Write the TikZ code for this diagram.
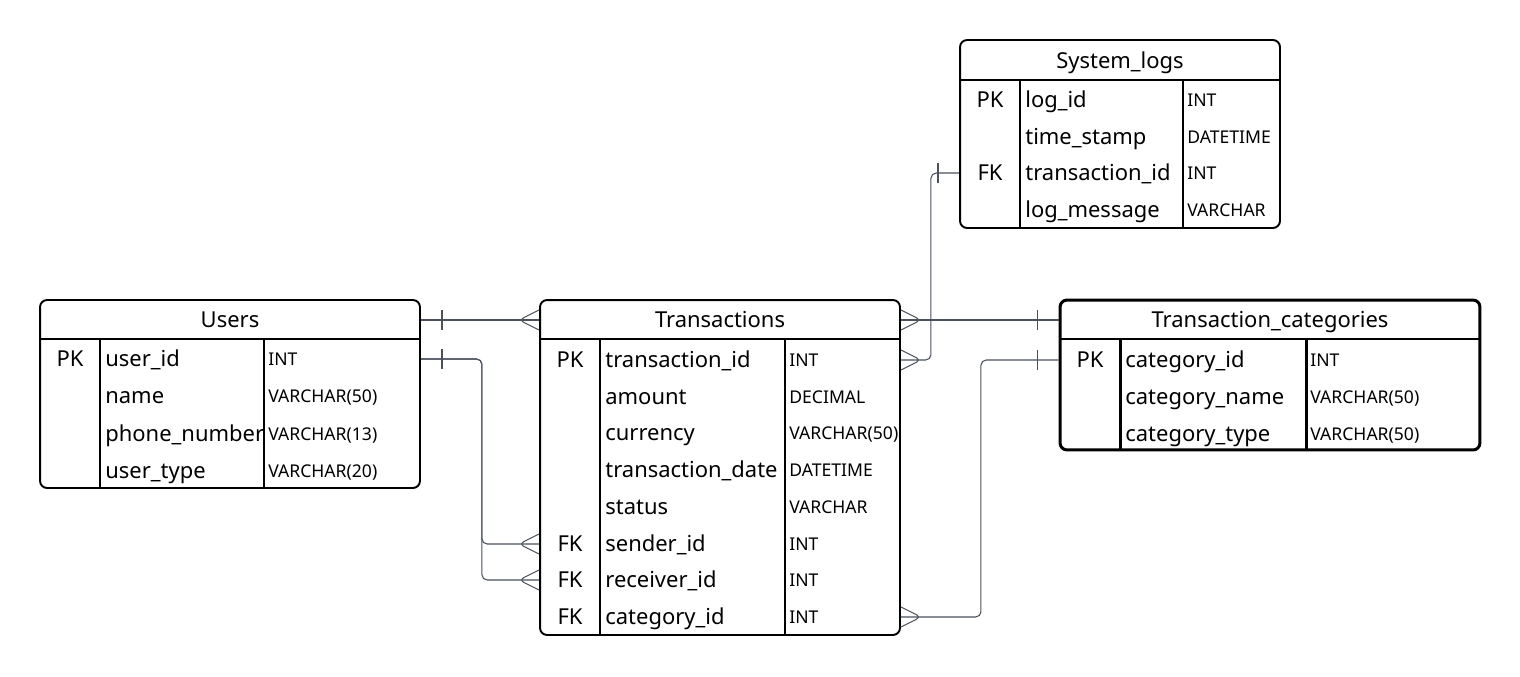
\documentclass[tikz,border=0pt]{standalone}
\usepackage{fontspec}
\setmainfont{Noto Sans}
\usetikzlibrary{positioning, decorations.markings}
\definecolor{LinkGray}{HTML}{4A505C}

\begin{document}
\begin{tikzpicture}[x=0.02cm, y=-0.02cm,
    tablebox/.style={draw, line width=1.1pt, rounded corners=4pt, inner sep=0pt},
    divider/.style={line width=1.1pt},
    tabletitle/.style={inner sep=0pt, font=\fontsize{12.5}{15}\selectfont, text height=8.9pt, text depth=0pt},
    keycell/.style={inner sep=0pt, font=\fontsize{12.5}{15}\selectfont, text height=8.9pt, text depth=0pt},
    field/.style={anchor=west, inner sep=0pt, font=\fontsize{12.5}{15}\selectfont, text height=8.9pt, text depth=0pt},
    dtype/.style={anchor=west, inner sep=0pt, font=\fontsize{10}{12}\selectfont, text height=7.1pt, text depth=0pt},
    link/.style={LinkGray, line width=0.6pt, rounded corners=3pt},
    one start/.style={postaction={decorate, decoration={markings,
        mark=at position 12pt with {\draw[LinkGray, line width=0.6pt] (0,-5.7pt) -- (0,5.7pt);}}}},
    one end/.style={postaction={decorate, decoration={markings,
        mark=at position -12pt with {\draw[LinkGray, line width=0.6pt] (0,-5.7pt) -- (0,5.7pt);}}}},
    many start/.style={postaction={decorate, decoration={markings,
        mark=at position 11.4pt with {\draw[LinkGray, line width=0.6pt] (-11.4pt,5.7pt) -- (0,0) -- (-11.4pt,-5.7pt);}}}},
    many end/.style={postaction={decorate, decoration={markings,
        mark=at position -11.4pt with {\draw[LinkGray, line width=0.6pt] (11.4pt,5.7pt) -- (0,0) -- (11.4pt,-5.7pt);}}}}
  ]
  \useasboundingbox (0,0) rectangle (1520,676);

  % Users
  \node[tablebox, minimum width=7.6cm, minimum height=3.76cm] (users) at (230,394) {};
  \draw[divider] (40,339) -- (420,339) (100,339) -- (100,488) (264,339) -- (264,488);
  \node[tabletitle] (users-title) at (230,320) {Users};
  \node[keycell] (u-pk) at (70,359) {PK};
  \node[field] (u-id) at (105,359) {user\_id};
  \node[dtype] (u-id-t) at (268,359) {INT};
  \node[field] (u-name) at (105,396) {name};
  \node[dtype] (u-name-t) at (268,396) {VARCHAR(50)};
  \node[field] (u-phone) at (105,434) {phone\_number};
  \node[dtype] (u-phone-t) at (268,434) {VARCHAR(13)};
  \node[field] (u-type) at (105,471) {user\_type};
  \node[dtype] (u-type-t) at (268,471) {VARCHAR(20)};

  % Transactions
  \node[tablebox, minimum width=7.2cm, minimum height=6.7cm] (trans) at (720,467.5) {};
  \draw[divider] (540,339) -- (900,339) (600,339) -- (600,635) (785,339) -- (785,635);
  \node[tabletitle] (trans-title) at (720,320) {Transactions};
  \node[keycell] (t-pk) at (570,360) {PK};
  \node[field] (t-id) at (605,360) {transaction\_id};
  \node[dtype] (t-id-t) at (789,360) {INT};
  \node[field] (t-amount) at (605,397) {amount};
  \node[dtype] (t-amount-t) at (789,397) {DECIMAL};
  \node[field] (t-currency) at (605,433) {currency};
  \node[dtype] (t-currency-t) at (789,433) {VARCHAR(50)};
  \node[field] (t-date) at (605,470) {transaction\_date};
  \node[dtype] (t-date-t) at (789,470) {DATETIME};
  \node[field] (t-status) at (605,507) {status};
  \node[dtype] (t-status-t) at (789,507) {VARCHAR};
  \node[keycell] (t-fk1) at (570,544) {FK};
  \node[field] (t-sender) at (605,544) {sender\_id};
  \node[dtype] (t-sender-t) at (789,544) {INT};
  \node[keycell] (t-fk2) at (570,580) {FK};
  \node[field] (t-receiver) at (605,580) {receiver\_id};
  \node[dtype] (t-receiver-t) at (789,580) {INT};
  \node[keycell] (t-fk3) at (570,617) {FK};
  \node[field] (t-cat) at (605,617) {category\_id};
  \node[dtype] (t-cat-t) at (789,617) {INT};

  % System_logs
  \node[tablebox, minimum width=6.4cm, minimum height=3.76cm] (logs) at (1120,134) {};
  \draw[divider] (960,80) -- (1280,80) (1020,80) -- (1020,228) (1183,80) -- (1183,228);
  \node[tabletitle] (logs-title) at (1120,61) {System\_logs};
  \node[keycell] (l-pk) at (990,100) {PK};
  \node[field] (l-id) at (1025,100) {log\_id};
  \node[dtype] (l-id-t) at (1187,100) {INT};
  \node[field] (l-time) at (1025,137) {time\_stamp};
  \node[dtype] (l-time-t) at (1187,137) {DATETIME};
  \node[keycell] (l-fk) at (990,173) {FK};
  \node[field] (l-trans) at (1025,173) {transaction\_id};
  \node[dtype] (l-trans-t) at (1187,173) {INT};
  \node[field] (l-msg) at (1025,210) {log\_message};
  \node[dtype] (l-msg-t) at (1187,210) {VARCHAR};

  % Transaction_categories
  \node[tablebox, line width=1.7pt, minimum width=8.4cm, minimum height=3cm] (cats) at (1270,375) {};
  \draw[divider, line width=1.7pt] (1060,339) -- (1480,339) (1120,339) -- (1120,450) (1306,339) -- (1306,450);
  \node[tabletitle] (cats-title) at (1270,320) {Transaction\_categories};
  \node[keycell] (c-pk) at (1090,360) {PK};
  \node[field] (c-id) at (1125,360) {category\_id};
  \node[dtype] (c-id-t) at (1310,360) {INT};
  \node[field] (c-name) at (1125,397) {category\_name};
  \node[dtype] (c-name-t) at (1310,397) {VARCHAR(50)};
  \node[field] (c-type) at (1125,434) {category\_type};
  \node[dtype] (c-type-t) at (1310,434) {VARCHAR(50)};

  % Relationships
  \draw[link, one start, many end] (users.east |- users-title) -- (trans.west |- trans-title);
  \draw[link, one start, many end] (users.east |- u-id) -- ++(61,0) |- (trans.west |- t-sender);
  \draw[link, one start, many end] (users.east |- u-id) -- ++(61,0) |- (trans.west |- t-receiver);
  \draw[link, many start, one end] (trans.east |- trans-title) -- (cats.west |- cats-title);
  \draw[link, many start, one end] (trans.east |- t-id) -- ++(30,0) |- (logs.west |- l-trans);
  \draw[link, many start, one end] (trans.east |- t-cat) -- ++(80,0) |- (cats.west |- c-id);
\end{tikzpicture}
\end{document}
